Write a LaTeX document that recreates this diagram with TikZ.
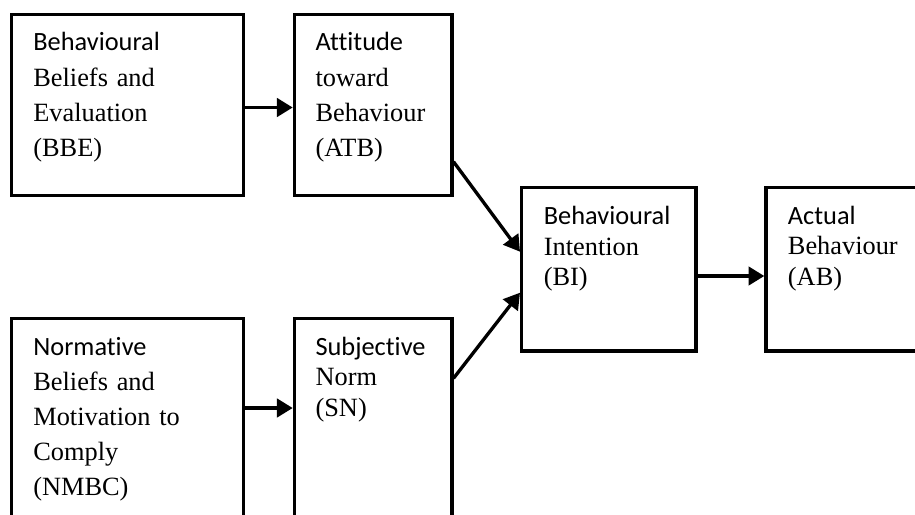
\documentclass[tikz,border=0pt]{standalone}
\usepackage{fontspec}
\setmainfont{Liberation Serif}
\newfontfamily\calfont[Ligatures=NoCommon]{Carlito}
\usetikzlibrary{arrows.meta}

\begin{document}
\begin{tikzpicture}[line join=miter,>={Triangle[length=9pt,width=10.5pt]},x=0.02cm,y=-0.02cm,
  box/.style={draw,line width=1.9pt,anchor=north west,inner sep=0pt},
  txt/.style={anchor=base west,inner sep=0pt,text width=4cm,align=left,font=\fontsize{15}{#1}\selectfont},
  txt/.default=20pt,
  link/.style={->,line width=1.9pt}]
\useasboundingbox (0,0) rectangle (915,514);
\clip (0,0) rectangle (915,514);
% boxes
\node[box,minimum width=4.64cm,minimum height=3.62cm] (bbe) at (10,12.7) {};
\node[box,minimum width=3.15cm,minimum height=3.62cm] (atb) at (292.7,12.7) {};
\node[box,minimum width=4.64cm,minimum height=5cm] (nmbc) at (10,316.7) {};
\node[box,minimum width=3.15cm,minimum height=5cm] (sn) at (292.7,316.7) {};
\node[box,minimum width=3.49cm,minimum height=3.27cm] (bi) at (520,186) {};
\node[box,minimum width=3.49cm,minimum height=3.27cm] (ab) at (764.3,186) {};
% texts
\node[txt] (bbetext) at ([shift={(23,38.2)}]bbe.north west) {{\calfont Behavioural}\\Beliefs and\\Evaluation\\(BBE)};
\node[txt] (atbtext) at ([shift={(22.5,38.2)}]atb.north west) {{\calfont Attitude}\\toward\\Behaviour\\(ATB)};
\node[txt] (nmbctext) at ([shift={(23,38.3)}]nmbc.north west) {{\calfont Normative}\\Beliefs and\\Motivation to\\Comply\\(NMBC)};
\node[txt=17.4pt] (sntext) at ([shift={(22.5,38.3)}]sn.north west) {{\calfont Subjective}\\Norm\\(SN)};
\node[txt=17.4pt] (bitext) at ([shift={(23.5,38.6)}]bi.north west) {{\calfont Behavioural}\\Intention\\(BI)};
\node[txt=17.4pt] (abtext) at ([shift={(23.3,38.3)}]ab.north west) {{\calfont Actual}\\Behaviour\\(AB)};
% arrows
\draw[link] ([shift={(0,94.8)}]bbe.north east) -- ([shift={(0,94.8)}]atb.north west);
\draw[link] ([shift={(0,91.3)}]nmbc.north east) -- ([shift={(0,91.3)}]sn.north west);
\draw[link] ([shift={(0,149)}]atb.north east) -- ([shift={(0,65.7)}]bi.north west);
\draw[link] ([shift={(0,61.6)}]sn.north east) -- ([shift={(0,106.7)}]bi.north west);
\draw[link] ([shift={(0,90)}]bi.north east) -- ([shift={(0,90)}]ab.north west);
\end{tikzpicture}
\end{document}
